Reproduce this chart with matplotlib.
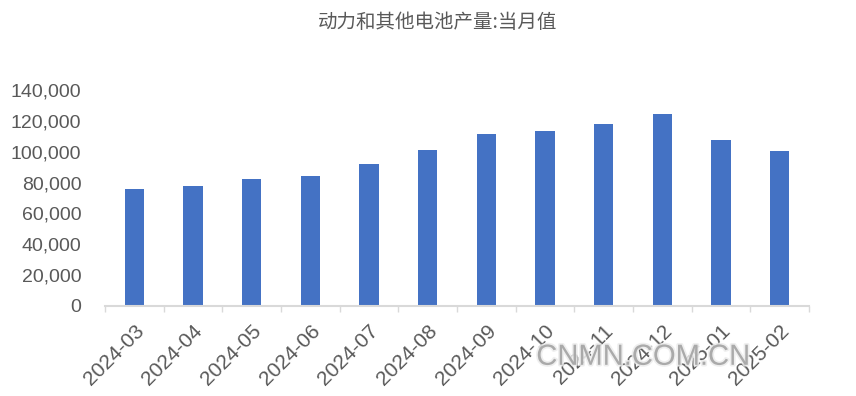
import numpy as np
import matplotlib.pyplot as plt
import matplotlib.patheffects as pe

plt.rcParams['font.family'] = ['Liberation Sans', 'Noto Sans CJK SC', 'DejaVu Sans']

# ── data ─────────────────────────────────────────────────────────
months = ['2024-03', '2024-04', '2024-05', '2024-06', '2024-07', '2024-08',
          '2024-09', '2024-10', '2024-11', '2024-12', '2025-01', '2025-02']
output = [75800, 77800, 82300, 84300, 92000, 101100,
          111500, 113400, 118000, 124400, 107600, 100500]
yticks = [0, 20000, 40000, 60000, 80000, 100000, 120000, 140000]

TITLE = '动力和其他电池产量:当月值'
GREY = '#595959'

# ── plot ─────────────────────────────────────────────────────────
fig = plt.figure(figsize=(8.56, 3.96), dpi=100)
ax = fig.add_axes([0.1227, 0.2273, 0.8223, 0.5454])

x = np.arange(len(months))
ax.bar(x, output, width=0.33, color='#4472C4', zorder=2)

ax.set_xlim(-0.5, len(months) - 0.5)
ax.set_ylim(0, 140000)
ax.set_yticks(yticks)
ax.set_yticklabels([f'{v:,}' for v in yticks], fontsize=14, color=GREY)
ax.tick_params(axis='y', length=0, pad=17)

ax.set_xticks(x)
ax.set_xticklabels(months, rotation=45, ha='right', rotation_mode='anchor',
                   fontsize=15, color=GREY)
ax.tick_params(axis='x', which='major', length=0, pad=11)
ax.set_xticks(np.arange(-0.5, len(months), 1), minor=True)
ax.tick_params(axis='x', which='minor', length=4, width=1, color='#d9d9d9')

for side in ['top', 'right', 'left']:
    ax.spines[side].set_visible(False)
ax.spines['bottom'].set_color('#d9d9d9')
ax.spines['bottom'].set_linewidth(1.5)

fig.text(0.511, 0.942, TITLE, ha='center', va='center', fontsize=14,
         color=GREY, family=['Noto Sans CJK SC', 'DejaVu Sans'])

# watermark
fig.text(0.751, 0.099, 'CNMN.COM.CN', ha='center', va='center', fontsize=21,
         color='#a0a0a0', alpha=0.85,
         path_effects=[pe.withStroke(linewidth=2.5, foreground='#ececec')])

fig.savefig('out.png', dpi=100)
plt.close()
